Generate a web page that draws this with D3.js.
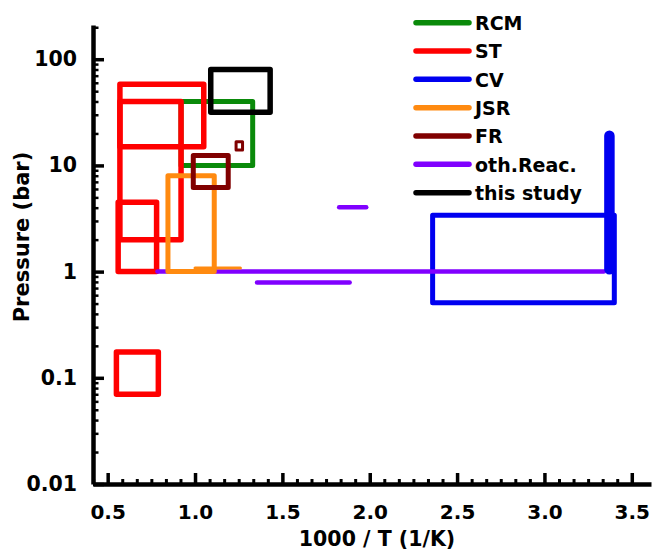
<!DOCTYPE html>
<html>
<head>
<meta charset="utf-8">
<script src="https://cdn.jsdelivr.net/npm/d3@7"></script>
<style>
  html, body { margin: 0; padding: 0; background: #fff; }
  svg { display: block; }
  text { font-family: "DejaVu Sans", sans-serif; font-weight: bold; fill: #000; }
</style>
</head>
<body>
<svg id="chart" width="652" height="553"></svg>
<script>
// ---- data (1000/T in 1/K, pressure in bar) ----
const categories = ["RCM", "ST", "CV", "JSR", "FR", "oth.Reac.", "this study"];
const seriesColors = ["#0a8a0a", "#ff0000", "#0000f0", "#ff8a10", "#800000", "#8000ff", "#000000"];

// boxes: [x0, x1, p0, p1]
const rcmBoxes = [[0.92, 1.33, 10, 40]];
const stBoxes = [[0.57, 1.05, 15, 58], [0.57, 0.92, 2, 40], [0.56, 0.78, 1, 4.5], [0.55, 0.79, 0.07, 0.175]];
const cvBoxes = [[2.36, 3.40, 0.51, 3.4]];
const jsrBoxes = [[0.845, 1.11, 1, 8]];
const frBoxes = [[0.99, 1.19, 6.2, 12.4]];
const frSmallBoxes = [[1.235, 1.272, 14, 16.7]];
const studyBoxes = [[1.09, 1.43, 31.6, 80]];
// horizontal segments: [x0, x1, p]
const othLines = [[0.785, 3.34, 1.0], [1.355, 1.885, 0.79], [1.825, 1.98, 4.03]];
const jsrLines = [[1.0, 1.26, 1.08]];
// vertical bars: [x, p0, p1]
const cvBars = [[3.372, 1.05, 19]];

const xMajorTicks = [0.5, 1.0, 1.5, 2.0, 2.5, 3.0, 3.5];
const yMajorTicks = [0.01, 0.1, 1, 10, 100];
const xLabel = "1000 / T (1/K)";
const yLabel = "Pressure (bar)";

// ---- scales ----
const svg = d3.select("#chart");
svg.append("rect").attr("width", 652).attr("height", 553).attr("fill", "#fff");

const x = d3.scaleLinear().domain([0.416, 3.61]).range([93, 651]);
const y = d3.scaleLog().domain([0.01, 210]).range([484, 25]);

const col = name => seriesColors[categories.indexOf(name)];

const plot = svg.append("g");

function drawBoxes(data, color, sw) {
  plot.append("g").selectAll("rect").data(data).join("rect")
    .attr("x", d => x(d[0]))
    .attr("y", d => y(d[3]))
    .attr("width", d => x(d[1]) - x(d[0]))
    .attr("height", d => y(d[2]) - y(d[3]))
    .attr("fill", "none")
    .attr("stroke", color)
    .attr("stroke-width", sw)
    .attr("stroke-linejoin", "round");
}
function drawHLines(data, color, sw) {
  plot.append("g").selectAll("line").data(data).join("line")
    .attr("x1", d => x(d[0])).attr("x2", d => x(d[1]))
    .attr("y1", d => y(d[2])).attr("y2", d => y(d[2]))
    .attr("stroke", color).attr("stroke-width", sw)
    .attr("stroke-linecap", "round");
}
function drawVBars(data, color, sw) {
  plot.append("g").selectAll("line").data(data).join("line")
    .attr("x1", d => x(d[0])).attr("x2", d => x(d[0]))
    .attr("y1", d => y(d[1])).attr("y2", d => y(d[2]))
    .attr("stroke", color).attr("stroke-width", sw)
    .attr("stroke-linecap", "round");
}

drawBoxes(cvBoxes, col("CV"), 5);
drawBoxes(rcmBoxes, col("RCM"), 5);
drawBoxes(stBoxes, col("ST"), 5.5);
drawHLines(othLines, col("oth.Reac."), 4.5);
drawHLines(jsrLines, col("JSR"), 3);
drawBoxes(jsrBoxes, col("JSR"), 5);
drawBoxes(frBoxes, col("FR"), 5);
drawBoxes(frSmallBoxes, col("FR"), 3);
drawBoxes(studyBoxes, col("this study"), 5.5);
drawVBars(cvBars, col("CV"), 10.5);

// ---- axes ----
const minorX = d3.range(0, 38).map(i => 0.5 + (i - 1) * (0.5 / 6)).filter(v => v >= 0.416 && v <= 3.61 && !xMajorTicks.some(m => Math.abs(m - v) < 1e-6));
const minorY = [];
[0.01, 0.1, 1, 10, 100].forEach(d => { for (let k = 2; k <= 9; k++) { const v = d * k; if (v <= 210) minorY.push(v); } });

const gx = svg.append("g").attr("transform", "translate(0,484)");
gx.call(d3.axisBottom(x).tickValues(minorX).tickSize(-5).tickSizeOuter(0).tickFormat(""));
gx.selectAll(".tick line").attr("stroke", "#000").attr("stroke-width", 3);
gx.select(".domain").remove();
const gx2 = svg.append("g").attr("transform", "translate(0,484)");
gx2.call(d3.axisBottom(x).tickValues(xMajorTicks).tickSize(-11).tickSizeOuter(0).tickPadding(21).tickFormat(d3.format(".1f")));
gx2.selectAll(".tick line").attr("stroke", "#000").attr("stroke-width", 3.5);
gx2.select(".domain").attr("stroke", "#000").attr("stroke-width", 4.5);
gx2.selectAll(".tick text").attr("font-size", "20px").attr("font-family", "DejaVu Sans").attr("font-weight", "bold").attr("fill", "#000");

const gy = svg.append("g").attr("transform", "translate(93,0)");
gy.call(d3.axisLeft(y).tickValues(minorY).tickSize(-5.5).tickSizeOuter(0).tickFormat(""));
gy.selectAll(".tick line").attr("stroke", "#000").attr("stroke-width", 2.5);
gy.select(".domain").remove();
const gy2 = svg.append("g").attr("transform", "translate(93,0)");
gy2.call(d3.axisLeft(y).tickValues(yMajorTicks).tickSize(-11).tickSizeOuter(0).tickPadding(16).tickFormat(d3.format("~g")));
gy2.selectAll(".tick line").attr("stroke", "#000").attr("stroke-width", 3.5);
gy2.select(".domain").attr("stroke", "#000").attr("stroke-width", 4.5);
gy2.selectAll(".tick text").attr("font-size", "20.5px").attr("font-family", "DejaVu Sans").attr("font-weight", "bold").attr("fill", "#000");

// axis titles
svg.append("text").attr("x", 377).attr("y", 546).attr("text-anchor", "middle")
  .attr("font-size", "20.5px").text(xLabel);
svg.append("text").attr("transform", "translate(29,237) rotate(-90)").attr("text-anchor", "middle")
  .attr("font-size", "21px").text(yLabel);

// ---- legend ----
const lg = svg.append("g");
const items = lg.selectAll("g").data(categories).join("g")
  .attr("transform", (d, i) => `translate(0,${22.7 + i * 28.33})`);
items.append("line").attr("x1", 416).attr("x2", 469).attr("y1", 0).attr("y2", 0)
  .attr("stroke", (d, i) => seriesColors[i]).attr("stroke-width", 5.5).attr("stroke-linecap", "round");
items.append("text").attr("x", 475).attr("y", 7.3).attr("font-size", "19px").text(d => d);
</script>
</body>
</html>
